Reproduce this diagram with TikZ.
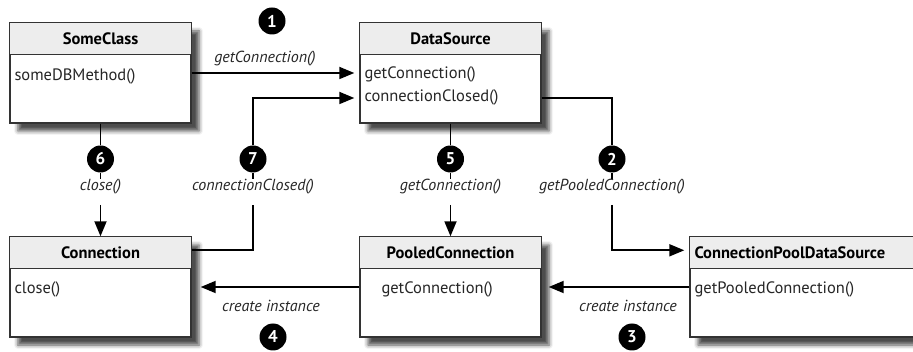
\documentclass[tikz,border=0pt]{standalone}
\usepackage{fontspec}
\setmainfont{PT Sans}
\usetikzlibrary{arrows.meta,calc,shadows.blur}
\tikzset{
  classbox/.style={draw=black!80, line width=1.4pt, fill=white, minimum width=181pt, minimum height=100pt, inner sep=0pt,
    blur shadow={shadow xshift=8pt, shadow yshift=-8pt, shadow blur radius=4pt, shadow opacity=70}},
  hdrfill/.style={fill=gray!14},
  boxline/.style={draw=black!80, line width=1.4pt},
  titletext/.style={font=\fontsize{16.5}{19}\selectfont\bfseries, inner sep=0pt},
  methtext/.style={font=\fontsize{16.5}{19}\selectfont, inner sep=0pt, anchor=west, text=black!85},
  lbltext/.style={font=\fontsize{16}{19}\selectfont\itshape, inner sep=0pt, text=black!85},
  badge/.style={circle, fill=black, text=white, inner sep=0pt, minimum size=27pt, font=\fontsize{17}{19}\selectfont\bfseries},
  conn/.style={line width=1.8pt, draw=black},
  arr/.style={conn, -{Triangle[length=15pt,width=12pt]}},
}
\newcommand{\umlbox}[2]{%
  \node[classbox] (#1) at (#2) {};
  \fill[hdrfill] (#1.north west) rectangle ($(#1.north east)+(0,32)$);
  \draw[boxline] (#1.north west) rectangle (#1.south east);
  \draw[boxline] ($(#1.north west)+(0,32)$) -- ($(#1.north east)+(0,32)$);
}
\begin{document}
\begin{tikzpicture}[x=1pt,y=-1pt]
\useasboundingbox (0,0) rectangle (913,352);
% boxes
\umlbox{sc}{100.5,73}
\node[titletext] (sct) at ($(sc.north)+(0,16)$) {SomeClass};
\node[methtext] (scm) at ($(sc.north west)+(5,54)$) {someDBMethod()};

\umlbox{ds}{450.5,73}
\node[titletext] (dst) at ($(ds.north)+(0,16)$) {DataSource};
\node[methtext] (dsm1) at ($(ds.north west)+(5,52)$) {getConnection()};
\node[methtext] (dsm2) at ($(ds.north west)+(5,75)$) {connectionClosed()};

\umlbox{cn}{100.5,287}
\node[titletext] (cnt) at ($(cn.north)+(0,16)$) {Connection};
\node[methtext] (cnm) at ($(cn.north west)+(5,53)$) {close()};

\umlbox{pc}{450.5,287}
\node[titletext] (pct) at ($(pc.north)+(0,16)$) {PooledConnection};
\node[methtext] (pcm) at ($(pc.north west)+(22,53)$) {getConnection()};

\node[classbox, minimum width=270pt] (cp) at (825,287) {};
\fill[hdrfill] (cp.north west) rectangle ($(cp.north east)+(0,32)$);
\draw[boxline] (cp.north west) rectangle (cp.south east);
\draw[boxline] ($(cp.north west)+(0,32)$) -- ($(cp.north east)+(0,32)$);
\node[titletext, anchor=west] (cpt) at ($(cp.north west)+(5,16)$) {ConnectionPoolDataSource};
\node[methtext] (cpm) at ($(cp.north west)+(5,53)$) {getPooledConnection()};

% badges and labels
\node[badge] (b1) at (272,21) {1};
\node[lbltext] (l1) at (265,59) {getConnection()};
\node[badge] (b6) at (100.5,159) {6};
\node[lbltext] (l6) at (100.5,187) {close()};
\node[badge] (b7) at (253,159) {7};
\node[lbltext] (l7) at (253,187) {connectionClosed()};
\node[badge] (b5) at (450.5,159) {5};
\node[lbltext] (l5) at (450.5,187) {getConnection()};
\node[badge] (b2) at (612,159) {2};
\node[lbltext] (l2) at (612,187) {getPooledConnection()};
\node[lbltext] (l4) at (271,306) {create instance};
\node[badge] (b4) at (273,337) {4};
\node[lbltext] (l3) at (628,306) {create instance};
\node[badge] (b3) at (632,337) {3};

% connectors
\draw[arr, shorten >=5pt] (sc.east) -- (ds.west);

\draw[conn] ($(cn.north east)+(0,14)$) -| ($(l7.center)+(0,18)$);
\draw[conn] (b7) -- ($(l7.center)+(0,-8)$);
\draw[arr, shorten >=5pt] (b7) |- ($(ds.west)+(0,25)$);

\draw[conn] (sc.south) -- (b6);
\draw[conn] (b6) -- ($(l6.center)+(0,-8)$);
\draw[arr] ($(l6.center)+(0,18)$) -- (cn.north);

\draw[conn] (ds.south) -- (b5);
\draw[conn] (b5) -- ($(l5.center)+(0,-8)$);
\draw[arr] ($(l5.center)+(0,18)$) -- (pc.north);

\draw[conn] ($(ds.east)+(0,25)$) -| (b2);
\draw[conn] (b2) -- ($(l2.center)+(0,-8)$);
\draw[arr, shorten >=5pt] ($(l2.center)+(0,18)$) |- ($(cp.north west)+(0,14)$);

\draw[arr, shorten >=7pt] (cp.west) -- (pc.east);
\draw[arr, shorten >=9pt] (pc.west) -- (cn.east);
\end{tikzpicture}
\end{document}
